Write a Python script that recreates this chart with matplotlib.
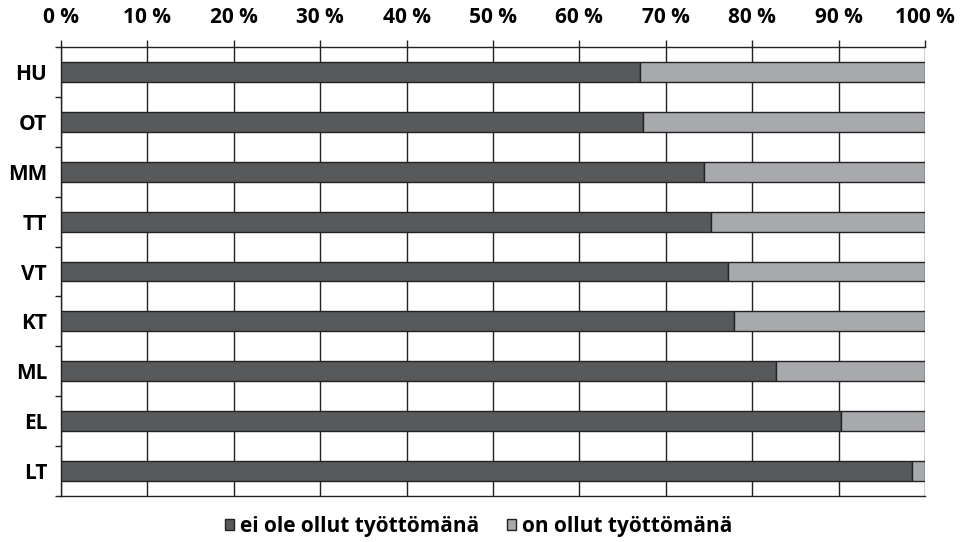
import matplotlib
matplotlib.use("Agg")
import matplotlib.pyplot as plt
import numpy as np

categories = ["HU", "OT", "MM", "TT", "VT", "KT", "ML", "EL", "LT"]
ei_ole = [67.0, 67.4, 74.4, 75.2, 77.2, 77.9, 82.8, 90.3, 98.5]
on_ollut = [100 - v for v in ei_ole]
series_names = ["ei ole ollut työttömänä", "on ollut työttömänä"]
xticks = list(range(0, 101, 10))
xtick_labels = [f"{t} %" for t in xticks]

plt.rcParams['font.family'] = ['Open Sans', 'DejaVu Sans']
plt.rcParams['font.weight'] = 'bold'

fig = plt.figure(figsize=(9.71, 5.42), dpi=100)
ax = fig.add_axes([61/971, 1-496/542, (925-61)/971, (496-47)/542])

y = np.arange(len(categories))
dark = "#58595b"
light = "#a7a9ac"
h = 0.4
ax.barh(y, ei_ole, height=h, color=dark, edgecolor="#222222", linewidth=1.0, zorder=3, label=series_names[0])
ax.barh(y, on_ollut, left=ei_ole, height=h, color=light, edgecolor="#222222", linewidth=1.0, zorder=3, label=series_names[1])

fs = 15
ax.set_xlim(0, 100)
ax.set_ylim(len(categories) - 0.5, -0.5)
ax.xaxis.tick_top()
ax.set_xticks(xticks)
ax.set_xticklabels(xtick_labels, fontsize=fs, fontweight='bold')
ax.tick_params(axis='x', length=5, width=1, color="#222222", pad=9)
ax.set_yticks(y)
ax.set_yticklabels(categories, fontsize=fs, fontweight='bold')
ax.set_yticks(np.arange(len(categories) + 1) - 0.5, minor=True)
ax.tick_params(axis='y', which='major', length=0, pad=10)
ax.tick_params(axis='y', which='minor', length=4, width=1, color="#222222")
ax.grid(axis='x', color="#222222", linewidth=1.0, zorder=0)
ax.set_axisbelow(True)
for s in ax.spines.values():
    s.set_color("#222222")
    s.set_linewidth(1.0)
ax.spines['right'].set_visible(False)

handles, labels = ax.get_legend_handles_labels()
leg = fig.legend(handles, labels, loc='lower center', bbox_to_anchor=(0.493, -0.025), ncol=2,
                 frameon=False, prop={'size': fs, 'weight': 'bold'}, handlelength=0.45,
                 handleheight=0.45, handletextpad=0.3, columnspacing=1.3)

fig.savefig("out.png", dpi=100)
